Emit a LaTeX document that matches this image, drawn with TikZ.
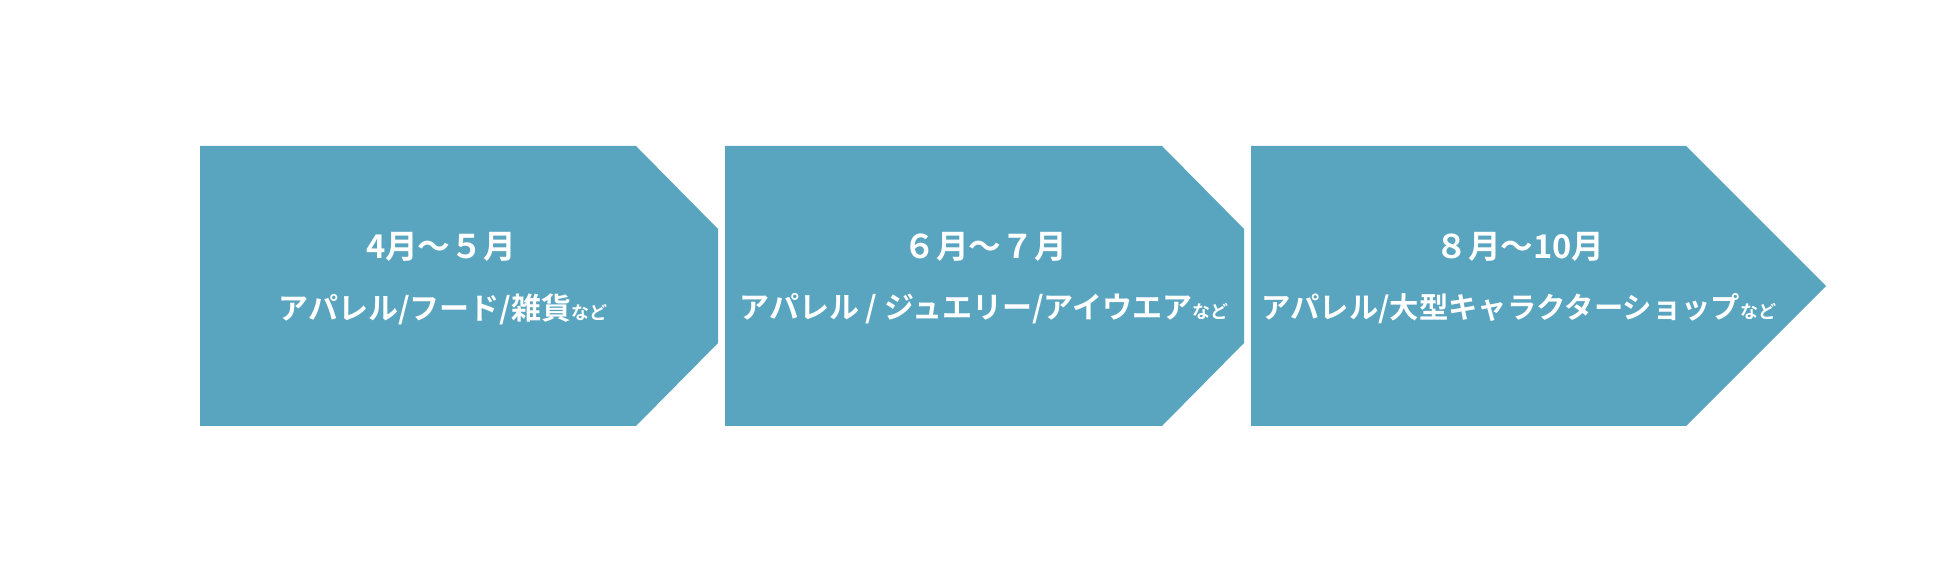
\documentclass[tikz,border=0pt]{standalone}
\usepackage{fontspec}
\newfontfamily\jp{Noto Sans CJK JP}[BoldFont={Noto Sans CJK JP Bold}]
\definecolor{chev}{HTML}{59A5C0}
\tikzset{
  chevshape/.style={fill=chev, draw=none},
  titletext/.style={text=white, font=\jp\bfseries\fontsize{24.5}{28}\selectfont, inner sep=0pt, anchor=center},
  bodytext/.style={text=white, font=\jp\bfseries\fontsize{22.5}{26}\selectfont, inner sep=0pt, anchor=center},
  narrowbody/.style={bodytext, font=\jp\bfseries\fontsize{22}{26}\selectfont},
}
\newcommand{\nado}{{\fontsize{13.5}{15}\selectfont など}}
\begin{document}
\begin{tikzpicture}[x=0.75pt,y=-0.75pt]
\useasboundingbox (0,0) rectangle (1950,573);
\fill[chevshape] (200,146) -- (636,146) -- (718,229) -- (718,343) -- (636,426) -- (200,426) -- cycle;
\fill[chevshape] (725,146) -- (1162,146) -- (1244,229) -- (1244,343) -- (1162,426) -- (725,426) -- cycle;
\fill[chevshape] (1251,146) -- (1686,146) -- (1826,286) -- (1686,426) -- (1251,426) -- cycle;
\node[titletext] (t1) at (441,247) {4月～５月};
\node[bodytext] (b1) at (443,309) {アパレル/フード/雑貨\nado};
\node[titletext] (t2) at (985,247) {６月～７月};
\node[bodytext] (b2) at (984,309) {アパレル / ジュエリー/アイウエア\nado};
\node[titletext] (t3) at (1520,247) {８月～10月};
\node[narrowbody] (b3) at (1519,309) {アパレル/大型キャラクターショップ\nado};
\end{tikzpicture}
\end{document}
